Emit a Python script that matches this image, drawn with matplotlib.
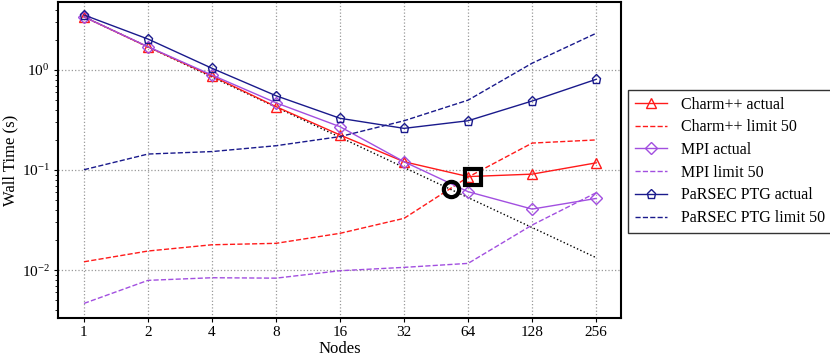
import matplotlib.pyplot as plt
from matplotlib.ticker import LogLocator, NullFormatter

plt.rcParams['font.family'] = ['Liberation Serif', 'DejaVu Serif']
plt.rcParams['mathtext.fontset'] = 'stix'

# data
nodes = [1, 2, 4, 8, 16, 32, 64, 128, 256]
node_labels = ['1', '2', '4', '8', '16', '32', '64', '128', '256']

charm_actual = [3.4, 1.70, 0.87, 0.43, 0.224, 0.121, 0.086, 0.091, 0.118]
charm_limit = [0.0121, 0.0155, 0.0179, 0.0185, 0.0233, 0.0329, 0.085, 0.186, 0.200]
mpi_actual = [3.4, 1.71, 0.89, 0.47, 0.271, 0.121, 0.0607, 0.0407, 0.052]
mpi_limit = [0.00464, 0.00789, 0.00838, 0.00830, 0.00985, 0.01064, 0.01166, 0.0282, 0.0593]
parsec_actual = [3.55, 2.04, 1.04, 0.553, 0.329, 0.261, 0.311, 0.49, 0.807]
parsec_limit = [0.1007, 0.1445, 0.153, 0.175, 0.216, 0.311, 0.50, 1.17, 2.33]
ideal = [3.4, 1.7, 0.85, 0.425, 0.2125, 0.106, 0.053, 0.0266, 0.0133]

# highlighted crossover points
mpi_cross = (53, 0.0646)
charm_cross = (67.5, 0.086)

red = '#ff1a1a'
purple = '#a24fe0'
navy = '#1a1a8c'

fig = plt.figure(figsize=(8.3, 3.57), dpi=100)
ax = fig.add_axes([0.0699, 0.109, 0.6783, 0.8855])

ax.plot(nodes, ideal, ':', color='black', lw=1.0)
ax.plot(nodes, charm_actual, '-', color=red, lw=1.0, marker='^', ms=6.5,
        mfc='none', mec=red, mew=1.0, label='Charm++ actual')
ax.plot(nodes, charm_limit, '--', color=red, lw=1.0, label='Charm++ limit 50')
ax.plot(nodes, mpi_actual, '-', color=purple, lw=1.0, marker='D', ms=6.5,
        mfc='none', mec=purple, mew=1.0, label='MPI actual')
ax.plot(nodes, mpi_limit, '--', color=purple, lw=1.0, label='MPI limit 50')
ax.plot(nodes, parsec_actual, '-', color=navy, lw=1.0, marker='p', ms=6.5,
        mfc='none', mec=navy, mew=1.0, label='PaRSEC PTG actual')
ax.plot(nodes, parsec_limit, '--', color=navy, lw=1.0, label='PaRSEC PTG limit 50')

ax.plot([mpi_cross[0]], [mpi_cross[1]], 'o', ms=11, mfc='none', mec='black', mew=3)
ax.plot([charm_cross[0]], [charm_cross[1]], 's', ms=12, mfc='none', mec='black', mew=3)

ax.set_xscale('log', base=2)
ax.set_yscale('log')
ax.set_xlim(0.755, 335)
ax.set_ylim(0.00331, 4.79)
ax.set_xticks(nodes)
ax.set_xticklabels(node_labels)
ax.xaxis.set_minor_locator(plt.NullLocator())
ax.set_yticks([1e-2, 1e-1, 1e0])
ax.yaxis.set_minor_locator(LogLocator(base=10, subs=range(2, 10)))
ax.yaxis.set_minor_formatter(NullFormatter())
ax.tick_params(axis='both', labelsize=11, direction='out', length=3, width=0.8, pad=3)
ax.tick_params(axis='y', which='minor', length=2, width=0.6)
ax.grid(True, which='major', linestyle=':', color='#999999', lw=0.9)

for s in ax.spines.values():
    s.set_linewidth(1.5)

ax.set_xlabel('Nodes', fontsize=12, labelpad=1)
ax.set_ylabel('Wall Time (s)', fontsize=12, labelpad=2)

leg = ax.legend(loc='center left', bbox_to_anchor=(0.757, 0.548), bbox_transform=fig.transFigure,
                borderaxespad=0, fontsize=11.5, frameon=True, fancybox=False, edgecolor='black',
                handlelength=2.0, handletextpad=0.9, borderpad=0.4, labelspacing=0.42)
leg.get_frame().set_linewidth(1.0)

fig.savefig('out.png', dpi=100)
